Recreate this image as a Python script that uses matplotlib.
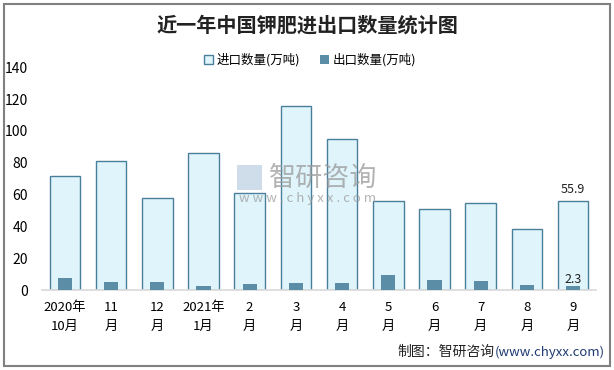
import matplotlib.pyplot as plt
from matplotlib.patches import Rectangle

plt.rcParams['font.family'] = ['Noto Sans CJK SC', 'DejaVu Sans']

# data
months = ['2020年\n10月', '11\n月', '12\n月', '2021年\n1月', '2\n月', '3\n月',
          '4\n月', '5\n月', '6\n月', '7\n月', '8\n月', '9\n月']
imports = [71.5, 80.9, 57.7, 86.0, 60.8, 115.5, 94.8, 55.8, 50.7, 54.5, 38.2, 55.9]
exports = [7.5, 5.0, 5.0, 2.5, 3.8, 4.4, 4.4, 9.4, 6.3, 5.7, 3.1, 2.3]

import_face = '#DFF4FB'
import_edge = '#4A7F9C'
export_face = '#5B8EA6'

fig = plt.figure(figsize=(6.14, 3.70), dpi=100)
ax = fig.add_axes([0.068, 0.216, 0.903, 0.602])

x = range(len(months))
ax.bar(x, imports, width=0.66, color=import_face, edgecolor=import_edge,
       linewidth=1.0, label='进口数量(万吨)', zorder=2)
ax.bar(x, exports, width=0.31, color=export_face, label='出口数量(万吨)', zorder=3)

# labels on the last month only
ax.text(11, imports[-1] + 3, '%.1f' % imports[-1], ha='center', va='bottom',
        fontsize=9, color='#222222')
ax.text(11, exports[-1] + 0.3, '%.1f' % exports[-1], ha='center', va='bottom',
        fontsize=9, color='#222222')

ax.set_xlim(-0.5, 11.5)
ax.set_ylim(0, 140)
ax.set_yticks(range(0, 141, 20))
ax.set_xticks(list(x))
ax.set_xticklabels(months, fontsize=9.5, linespacing=1.6)
ax.tick_params(axis='y', labelsize=10, length=0, pad=10)
ax.tick_params(axis='x', length=0, pad=8)
for s in ['top', 'right', 'left']:
    ax.spines[s].set_visible(False)
ax.spines['bottom'].set_color('#D9D9D9')
ax.spines['bottom'].set_linewidth(1.2)

leg = fig.legend(loc='center', bbox_to_anchor=(0.505, 0.838), ncol=2, frameon=False,
                 fontsize=9, handlelength=0.7, handleheight=0.7, handletextpad=0.3,
                 columnspacing=1.6)

fig.text(0.5, 0.933, '近一年中国钾肥进出口数量统计图', ha='center', va='center',
         fontsize=14.5, fontweight='bold', color='#222222')

# watermark
fig.text(0.526, 0.519, '智研咨询', ha='center', va='center', fontsize=19.5,
         color='#9A9A9A', alpha=0.75, zorder=5)
fig.text(0.501, 0.463, 'w w w . c h y x x . c o m', ha='center', va='center',
         fontsize=9.5, color='#9A9A9A', alpha=0.75, zorder=5)
fig.patches.append(Rectangle((0.386, 0.486), 0.041, 0.068, transform=fig.transFigure,
                             facecolor='#C3D4E4', alpha=0.8, zorder=5))

fig.text(0.805, 0.048, '制图：智研咨询', ha='right', va='center', fontsize=10, color='#222222')
fig.text(0.805, 0.048, '(www.chyxx.com)', ha='left', va='center', fontsize=9.5, color='#1F3B73')

fig.patches.append(Rectangle((0.007, 0.011), 0.986, 0.978, transform=fig.transFigure,
                             fill=False, edgecolor='#808080', linewidth=1.5))

fig.savefig('out.png', dpi=100)
